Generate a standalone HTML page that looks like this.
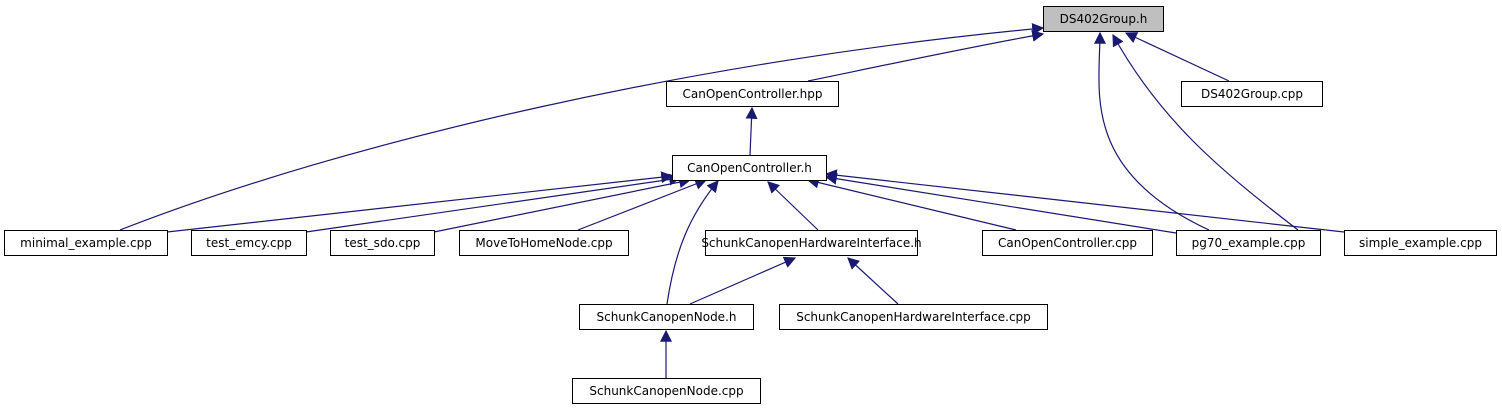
<!DOCTYPE html>
<html><head><meta charset="utf-8"><style>
html,body{margin:0;padding:0;background:#fff;}
svg text{font-family:"DejaVu Sans","Liberation Sans",sans-serif;font-size:12px;fill:#000;}
</style></head><body>
<svg width="1502" height="411" viewBox="0 0 1502 411" xmlns="http://www.w3.org/2000/svg">
<defs>
<marker id="a" viewBox="0 0 10 10" refX="9" refY="5" markerWidth="12" markerHeight="12" markerUnits="userSpaceOnUse" orient="auto-start-reverse">
<path d="M0,0 L10,5 L0,10 z" fill="#191970"/>
</marker>
</defs>
<g fill="none" stroke="#191970" stroke-width="1.2">
<!-- to DS402Group.h -->
<path d="M120,230 C350,140 700,60 1043,28" marker-end="url(#a)"/>
<path d="M808,81 C900,62 980,45 1043,34" marker-end="url(#a)"/>
<path d="M1229,81 L1126,33" marker-end="url(#a)"/>
<path d="M1298,230 C1220,170 1160,120 1113,35" marker-end="url(#a)"/>
<path d="M1209,230 C1080,170 1100,90 1100,33" marker-end="url(#a)"/>
<!-- hpp <- h -->
<path d="M750,155 L752,108" marker-end="url(#a)"/>
<!-- to CanOpenController.h -->
<path d="M167,232 L672,176" marker-end="url(#a)"/>
<path d="M306,232 L680,178" marker-end="url(#a)"/>
<path d="M434,232 L690,180" marker-end="url(#a)"/>
<path d="M578,230 L706,180" marker-end="url(#a)"/>
<path d="M667,304 C675,250 690,215 718,181" marker-end="url(#a)"/>
<path d="M818,230 L768,182" marker-end="url(#a)"/>
<path d="M1016,230 L808,180" marker-end="url(#a)"/>
<path d="M1176,233 L826,177" marker-end="url(#a)"/>
<path d="M1344,232 L826,174" marker-end="url(#a)"/>
<!-- second level -->
<path d="M690,304 L795,258" marker-end="url(#a)"/>
<path d="M898,304 L848,258" marker-end="url(#a)"/>
<path d="M666,378 L666,331" marker-end="url(#a)"/>
</g>
<g stroke="#000" stroke-width="1" fill="#fff">
<rect x="1043.5" y="6.5" width="120" height="25" fill="#bfbfbf"/>
<rect x="666.5" y="81.5" width="172" height="25"/>
<rect x="1181.5" y="81.5" width="141" height="25"/>
<rect x="672.5" y="155.5" width="154" height="25"/>
<rect x="4.5" y="230.5" width="163" height="25"/>
<rect x="191.5" y="230.5" width="115" height="25"/>
<rect x="330.5" y="230.5" width="104" height="25"/>
<rect x="459.5" y="230.5" width="169" height="25"/>
<rect x="705.5" y="230.5" width="212" height="25"/>
<rect x="982.5" y="230.5" width="170" height="25"/>
<rect x="1176.5" y="230.5" width="144" height="25"/>
<rect x="1344.5" y="230.5" width="152" height="25"/>
<rect x="579.5" y="304.5" width="174" height="25"/>
<rect x="779.5" y="304.5" width="268" height="25"/>
<rect x="572.5" y="378.5" width="188" height="25"/>
</g>
<g text-anchor="middle">
<text x="1103.5" y="23">DS402Group.h</text>
<text x="752.5" y="98">CanOpenController.hpp</text>
<text x="1252" y="98">DS402Group.cpp</text>
<text x="749.5" y="172">CanOpenController.h</text>
<text x="86" y="247">minimal_example.cpp</text>
<text x="249" y="247">test_emcy.cpp</text>
<text x="382.5" y="247">test_sdo.cpp</text>
<text x="544" y="247">MoveToHomeNode.cpp</text>
<text x="811.5" y="247">SchunkCanopenHardwareInterface.h</text>
<text x="1067.5" y="247">CanOpenController.cpp</text>
<text x="1248.5" y="247">pg70_example.cpp</text>
<text x="1420.5" y="247">simple_example.cpp</text>
<text x="666.5" y="321">SchunkCanopenNode.h</text>
<text x="913.5" y="321">SchunkCanopenHardwareInterface.cpp</text>
<text x="666.5" y="395">SchunkCanopenNode.cpp</text>
</g>
</svg>
</body></html>
